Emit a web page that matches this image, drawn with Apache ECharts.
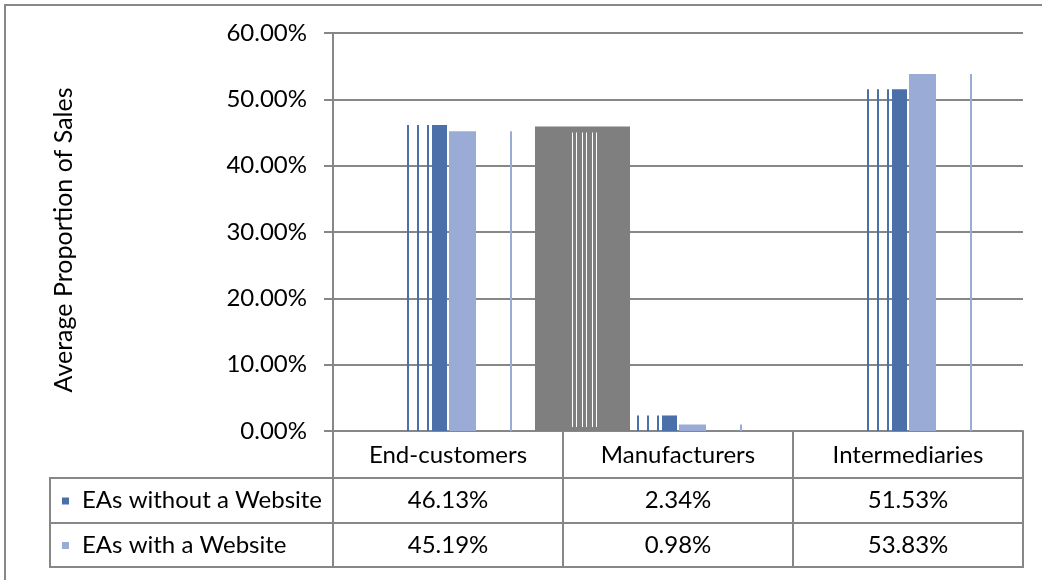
<!DOCTYPE html>
<html>
<head>
<meta charset="utf-8">
<script src="https://cdn.jsdelivr.net/npm/echarts@6/dist/echarts.min.js"></script>
<style>
html,body{margin:0;padding:0;background:#fff;}
#chart{width:1042px;height:580px;}
</style>
</head>
<body>
<div id="chart"></div>
<script>
// ---- data ----
const categories = ['End-customers', 'Manufacturers', 'Intermediaries'];
const seriesNames = ['EAs without a Website', 'EAs with a Website'];
const withoutWebsite = [46.13, 2.34, 51.53];
const withWebsite = [45.19, 0.98, 53.83];
const ghostBlock = [45.9, 0, 0];            // grey rendering block seen in the source image
const yMin = 0, yMax = 60, yStep = 10;
const yAxisTitle = 'Average Proportion of Sales';

// ---- layout / style ----
const FONT = 'Lato';
const FS = 24;
const DARK = '#4a6fa9';
const LIGHT = '#9aabd6';
const GREY = '#878787';
const plotLeft = 333, plotRight = 1023, plotTop = 33, plotBottom = 431;
const rowY = [431, 478, 523, 567];
const tableLeft = 50;

const chart = echarts.init(document.getElementById('chart'), null, {renderer: 'canvas'});

function rect(x, y, w, h, fill) {
  return {type: 'rect', shape: {x: x, y: y, width: w, height: h}, style: {fill: fill}};
}

function renderWithout(params, api) {
  const i = api.value(0);
  const base = api.coord([i, 0]);
  const top = api.coord([i, api.value(1)]);
  const h = base[1] - top[1];
  const cx = base[0];
  return {type: 'group', children: [
    rect(cx - 41, top[1], 2, h, DARK),
    rect(cx - 31, top[1], 2, h, DARK),
    rect(cx - 21, top[1], 2, h, DARK),
    rect(cx - 16, top[1], 15, h, DARK)
  ]};
}
function renderWith(params, api) {
  const i = api.value(0);
  const base = api.coord([i, 0]);
  const top = api.coord([i, api.value(1)]);
  const h = base[1] - top[1];
  const cx = base[0];
  return {type: 'group', children: [
    rect(cx + 1, top[1], 27, h, LIGHT),
    rect(cx + 62, top[1], 2, h, LIGHT)
  ]};
}
function renderGhost(params, api) {
  const i = api.value(0);
  const v = api.value(1);
  if (!v) return null;
  const base = api.coord([i, 0]);
  const top = api.coord([i, v]);
  const h = base[1] - top[1];
  const cx = base[0];
  const kids = [rect(cx + 87, top[1], 95, h, '#7f7f7f')];
  [124, 128, 134, 138, 144, 148].forEach(function (o) {
    kids.push(rect(cx + o, top[1] + 6, 1, h - 10, '#ffffff'));
  });
  return {type: 'group', children: kids};
}

// ---- data table (graphic) ----
const graphics = [];
// outer border
graphics.push({type: 'rect', shape: {x: 5, y: 5, width: 1100, height: 700},
  style: {fill: 'none', stroke: GREY, lineWidth: 2}, z: 100});
const colW = (plotRight - plotLeft) / categories.length;
function line(x1, y1, x2, y2) {
  return {type: 'line', shape: {x1: x1, y1: y1, x2: x2, y2: y2},
    style: {stroke: GREY, lineWidth: 2}, z: 100};
}
for (let c = 0; c <= categories.length; c++) {
  const x = plotLeft + c * colW;
  graphics.push(line(x, rowY[0], x, rowY[3]));
}
graphics.push(line(tableLeft, rowY[1], tableLeft, rowY[3]));
for (let r = 1; r <= 3; r++) graphics.push(line(tableLeft - 1, rowY[r], plotRight + 1, rowY[r]));

function txt(x, y, s, align) {
  return {type: 'text', x: x, y: y, z: 101,
    style: {text: s, fill: '#000', fontSize: FS, fontFamily: FONT,
      align: align, textAlign: align, verticalAlign: 'middle', textVerticalAlign: 'middle'}};
}
const rowsVals = [withoutWebsite, withWebsite];
const colors = [DARK, LIGHT];
categories.forEach(function (name, c) {
  const cx = plotLeft + (c + 0.5) * colW;
  graphics.push(txt(cx, (rowY[0] + rowY[1]) / 2 + 1, name, 'center'));
  rowsVals.forEach(function (vals, r) {
    graphics.push(txt(cx, (rowY[r + 1] + rowY[r + 2]) / 2, vals[c].toFixed(2) + '%', 'center'));
  });
});
seriesNames.forEach(function (n, r) {
  const cy = (rowY[r + 1] + rowY[r + 2]) / 2;
  graphics.push({type: 'rect', shape: {x: 62, y: cy - 3, width: 7, height: 7},
    style: {fill: colors[r]}, z: 101});
  graphics.push(txt(82, cy, n, 'left'));
});
graphics.push({type: 'text', x: 64, y: 240, rotation: Math.PI / 2, z: 101,
  style: {text: yAxisTitle, fill: '#000', fontSize: 25, fontFamily: FONT,
    align: 'center', textAlign: 'center', verticalAlign: 'middle', textVerticalAlign: 'middle'}});

chart.setOption({
  animation: false,
  backgroundColor: '#ffffff',
  grid: {left: plotLeft, right: 1042 - plotRight, top: plotTop, bottom: 580 - plotBottom, containLabel: false},
  xAxis: {
    type: 'category', data: categories, boundaryGap: true,
    axisLabel: {show: false}, axisTick: {show: false},
    axisLine: {show: true, lineStyle: {color: GREY, width: 2}},
    splitLine: {show: false}
  },
  yAxis: {
    type: 'value', min: yMin, max: yMax, interval: yStep,
    axisLabel: {formatter: function (v) { return v.toFixed(2) + '%'; },
      fontSize: FS, fontFamily: FONT, color: '#000', margin: 26},
    axisTick: {show: true, length: 9, lineStyle: {color: GREY, width: 2}},
    axisLine: {show: true, lineStyle: {color: GREY, width: 2}},
    splitLine: {show: true, lineStyle: {color: GREY, width: 2}}
  },
  series: [
    {name: 'ghost', type: 'custom', renderItem: renderGhost, z: 1,
      data: ghostBlock.map(function (v, i) { return [i, v]; })},
    {name: seriesNames[0], type: 'custom', renderItem: renderWithout, z: 2,
      data: withoutWebsite.map(function (v, i) { return [i, v]; })},
    {name: seriesNames[1], type: 'custom', renderItem: renderWith, z: 3,
      data: withWebsite.map(function (v, i) { return [i, v]; })}
  ],
  graphic: graphics
});
</script>
</body>
</html>
